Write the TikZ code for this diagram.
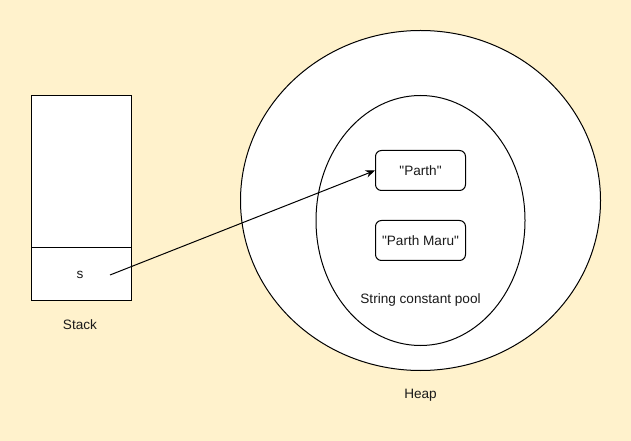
\documentclass[tikz,border=0pt]{standalone}
\usepackage{fontspec}
\setmainfont{Liberation Sans}[Ligatures=TeXOff]
\usetikzlibrary{arrows.meta,shapes.geometric}
\definecolor{bgyellow}{HTML}{FFF2CC}
\definecolor{txt}{HTML}{1A1A1A}
\begin{document}
\begin{tikzpicture}[x=0.75pt,y=-0.75pt, line width=0.75pt,
  lbl/.style={font=\fontsize{10.2}{12}\selectfont, text=txt, inner sep=0pt},
  strbox/.style={draw, fill=white, rounded corners=4.5pt, minimum width=67.5pt, minimum height=30pt, font=\fontsize{10.2}{12}\selectfont, text=txt, inner sep=0pt},
  conn/.style={-{Stealth[length=7pt,width=5.5pt]}, line width=0.75pt}]
\fill[bgyellow] (0,0) rectangle (631,441);
\useasboundingbox (0,0) rectangle (631,441);
% stack
\node[draw, fill=white, minimum width=75pt, minimum height=153.75pt, inner sep=0pt, anchor=north west] (stack) at (31,95) {};
\node[minimum width=75pt, minimum height=38.25pt, inner sep=0pt, anchor=south west] (cell) at (31,300) {};
\draw (cell.north west) -- (cell.north east);
\node[lbl] (s) at (80,275) {s};
\coordinate (sstart) at (110,275);
\node[lbl] (stacklbl) at (80,325) {Stack};
% heap
\node[draw, fill=white, ellipse, minimum width=270pt, minimum height=255pt, inner sep=0pt] (heap) at (420.5,200.5) {};
\node[draw, fill=white, ellipse, minimum width=156.75pt, minimum height=187.5pt, inner sep=0pt] (pool) at (420.5,220.5) {};
\node[lbl] (heaplbl) at (420.5,395) {Heap};
\node[lbl] (poollbl) at (420.5,300) {String constant pool};
\node[strbox] (p1) at (420.5,170.5) {"Parth"};
\node[strbox] (p2) at (420.5,240.5) {"Parth Maru"};
\draw[conn] (sstart) -- (p1.west);
\end{tikzpicture}
\end{document}
